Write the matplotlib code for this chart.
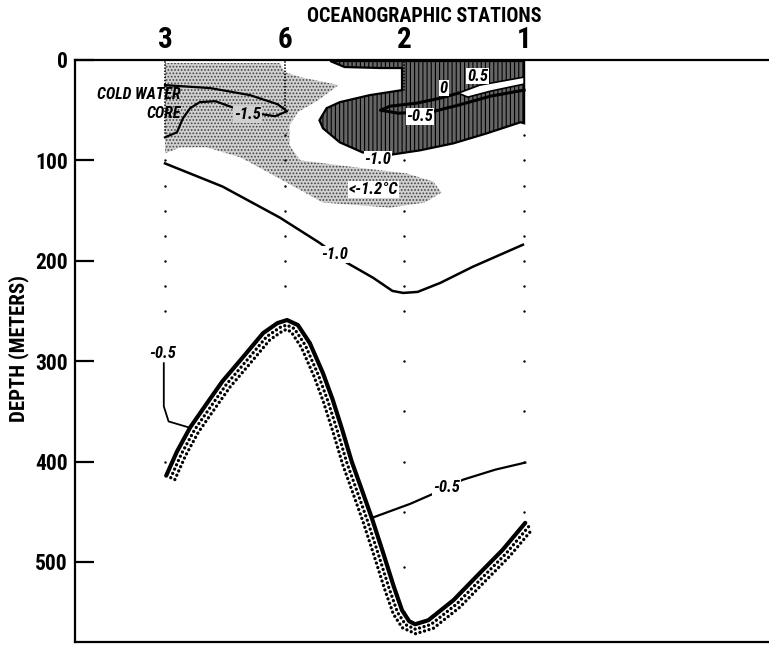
import matplotlib
matplotlib.use("Agg")
import matplotlib.pyplot as plt
import matplotlib.transforms as mtransforms
import numpy as np

FONT = ['Roboto Condensed', 'Open Sans Condensed', 'DejaVu Sans Condensed',
        'Liberation Sans Narrow', 'Roboto', 'DejaVu Sans']
plt.rcParams['font.family'] = FONT
plt.rcParams['font.weight'] = 'bold'
plt.rcParams['hatch.linewidth'] = 0.8

# stations along the section, x in station spacings
stations = ['3', '6', '2', '1']
station_x = [0, 1, 2, 3]
depth_ticks = [0, 100, 200, 300, 400, 500]

# continuous (closely spaced) bottle depths near the surface
dense_depth = [75, 50, 30, 20]
# discrete sample depths below
st3_depths = [100, 125, 150, 175, 200, 225, 250, 400]
st6_depths = [75, 100, 125, 150, 175, 200, 225]
st2_depths = [100, 150, 175, 200, 225, 250, 300, 350, 400, 450, 505, 550]
st1_depths = [75, 100, 125, 150, 175, 200, 225, 250, 300, 350, 400, 450]

# water colder than -1.2 C (stippled)
cold_zone = [(0, 3), (0.96, 3), (1.0, 12), (1.13, 17), (1.45, 25), (1.28, 40),
             (1.11, 52), (1.04, 65), (1.04, 85), (1.13, 100), (1.60, 107),
             (2.02, 113), (2.24, 121), (2.31, 132), (2.17, 142), (1.88, 147),
             (1.32, 142), (0.94, 117), (0.63, 97), (0.35, 87), (0.13, 87),
             (0, 93)]

# water warmer than -1.0 C (hatched)
warm_zone = [(1.38, 1), (3.0, 1), (3.0, 63), (2.97, 62), (2.69, 73), (2.41, 83),
             (2.13, 90), (1.85, 95), (1.65, 92), (1.46, 82), (1.32, 68),
             (1.29, 60), (1.35, 48), (1.46, 42), (1.71, 35), (1.98, 30),
             (1.98, 8), (1.80, 8), (1.50, 7)]
warm_tongue = [(2.45, 33), (2.63, 25), (3.0, 17), (3.0, 24), (2.72, 31), (2.53, 37)]
iso_m05_top = [(3.0, 30), (2.72, 36), (2.45, 45), (2.25, 51), (1.95, 53),
               (1.80, 50), (1.88, 46), (2.10, 43), (2.30, 38), (2.45, 33)]

iso_m15 = [(0, 77), (0.10, 72), (0.15, 58), (0.21, 48), (0.29, 42), (0.42, 41),
           (0.56, 47), (0.69, 52), (0.81, 54), (0.92, 56), (1.02, 51),
           (0.94, 44), (0.71, 35), (0.38, 28), (0, 25)]

iso_m10 = [(0, 103), (0.48, 126), (0.96, 157), (1.29, 182), (1.52, 202),
           (1.74, 217), (1.90, 230), (1.99, 232), (2.11, 231), (2.30, 222),
           (2.57, 206), (2.99, 184)]

# bold -0.5 isotherm with stippled side
iso_m05_bold = [(0.01, 414), (0.10, 390), (0.21, 366), (0.35, 342), (0.48, 320),
                (0.63, 299), (0.82, 272), (0.94, 262), (1.02, 259), (1.11, 264),
                (1.21, 282), (1.32, 312), (1.40, 338), (1.48, 368), (1.56, 400),
                (1.65, 430), (1.73, 457), (1.82, 490), (1.91, 524), (1.98, 548),
                (2.04, 559), (2.09, 562), (2.20, 558), (2.41, 538), (2.63, 511),
                (2.82, 488), (3.01, 461)]
iso_m05_right = [(1.73, 456), (2.05, 442), (2.28, 430), (2.49, 418), (2.76, 408),
                 (3.01, 401)]
iso_m05_left = [(-0.01, 302), (-0.01, 345), (0.03, 360), (0.20, 366)]

# contour labels: text, x, depth, box colour
labels = [('-1.5', 0.69, 54, '#d0d0d0'), ('-1.0', 1.78, 99, 'white'),
          ('<-1.2°C', 1.74, 129, 'white'), ('-1.0', 1.42, 194, 'white'),
          ('-0.5', 2.13, 56, 'white'), ('0', 2.33, 28, 'white'),
          ('0.5', 2.61, 16, 'white'), ('-0.5', -0.02, 292, None),
          ('-0.5', 2.35, 426, 'white')]


def xy(pts):
    a = np.array(pts, dtype=float)
    return a[:, 0], a[:, 1]


def offset_curve(ax, pts, dist_px):
    disp = ax.transData.transform(np.array(pts, dtype=float))
    tang = np.gradient(disp, axis=0)
    tang /= np.linalg.norm(tang, axis=1)[:, None]
    norm = np.column_stack([tang[:, 1], -tang[:, 0]])
    out = ax.transData.inverted().transform(disp + dist_px * norm)
    return out[:, 0], out[:, 1]


fig = plt.figure(figsize=(7.69, 6.45), dpi=100)
ax = fig.add_axes([75 / 769, 1 - 642 / 645, 694 / 769, 582 / 645])
ax.set_xlim((75 - 165) / 119.7, (769 - 165) / 119.7)
ax.set_ylim(582 / 1.004, 0)

for s in ['top', 'bottom', 'left']:
    ax.spines[s].set_linewidth(1.6)
ax.spines['right'].set_visible(False)

# shaded zones
cx, cd = xy(cold_zone)
ax.fill(cx, cd, facecolor='#d0d0d0', edgecolor='#444444', hatch='.....',
        linewidth=0, zorder=1)
wx, wd = xy(warm_zone)
ax.fill(wx, wd, facecolor='#666666', edgecolor='black', hatch='||||',
        linewidth=0, zorder=2)
ax.fill(wx, wd, facecolor='none', edgecolor='black', linewidth=1.6, zorder=3)
tx, td = xy(warm_tongue)
ax.fill(tx, td, facecolor='white', edgecolor='black', linewidth=1.2, zorder=3)
ax.plot(*xy(iso_m05_top), color='black', lw=2.2, zorder=4)

# station sample positions
for sx, top, deps in zip(station_x, dense_depth,
                         [st3_depths, st6_depths, st2_depths, st1_depths]):
    ax.plot([sx, sx], [2, top], color='black', lw=1.3,
            linestyle=(0, (0.01, 1.7)), dash_capstyle='round', zorder=5)
    ax.scatter([sx] * len(deps), deps, s=3, color='black', linewidths=0,
               zorder=5)

# isotherms
ax.plot(*xy(iso_m15), color='black', lw=1.6, zorder=4)
ax.plot(*xy(iso_m10), color='black', lw=1.8, zorder=4)
ax.plot(*xy(iso_m05_right), color='black', lw=1.6, zorder=4)
ax.plot(*xy(iso_m05_left), color='black', lw=1.3, zorder=4)
for dist in [5.0, 9.5]:
    ox, od = offset_curve(ax, iso_m05_bold, dist)
    ax.plot(ox, od, color='black', lw=2.4, linestyle=(0, (0.01, 1.4)),
            dash_capstyle='round', zorder=4)
ax.plot(*xy(iso_m05_bold), color='black', lw=3.0, solid_capstyle='round',
        solid_joinstyle='round', zorder=5)

for txt, lx, ld, box in labels:
    kw = dict(facecolor=box, edgecolor='none', pad=0.6) if box else None
    ax.text(lx, ld, txt, fontsize=12, style='italic', fontweight='bold',
            fontstretch='condensed', ha='center', va='center', bbox=kw,
            zorder=6)

ax.text(0.13, 44, 'COLD WATER\nCORE', fontsize=11.5, style='italic',
        fontweight='bold', fontstretch='condensed', ha='right', va='center',
        linespacing=1.3, zorder=6)

# axes decoration
ax.set_yticks(depth_ticks)
ax.set_yticklabels([str(v) for v in depth_ticks])
ax.tick_params(axis='y', direction='in', length=14, width=1.6, pad=5,
               labelsize=15.5)
ax.xaxis.tick_top()
ax.set_xticks(station_x)
ax.set_xticklabels(stations)
ax.tick_params(axis='x', length=0, pad=4, labelsize=21)
for lab in ax.get_xticklabels() + ax.get_yticklabels():
    lab.set_fontweight('bold')
    lab.set_fontstretch('condensed')

trans = mtransforms.blended_transform_factory(ax.transData, fig.transFigure)
ax.text(2.17, 1 - 16 / 645, 'OCEANOGRAPHIC STATIONS', transform=trans,
        fontsize=14.5, fontweight='bold', fontstretch='condensed',
        ha='center', va='center')
fig.text(19 / 769, 1 - 349 / 645, 'DEPTH (METERS)', rotation=90,
         fontsize=15, fontweight='bold', fontstretch='condensed',
         ha='center', va='center')

fig.savefig('out.png', dpi=100)
